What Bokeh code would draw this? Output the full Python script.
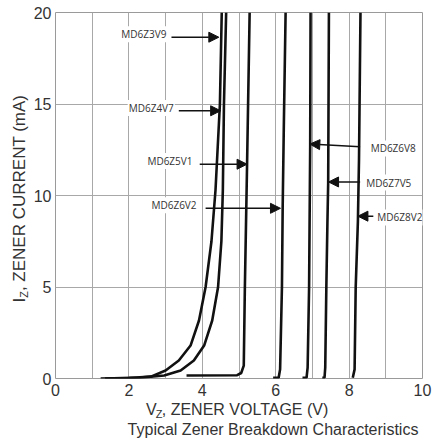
import math
from bokeh.plotting import figure
from bokeh.layouts import row, column
from bokeh.models import Range1d, FixedTicker, Label, Arrow, NormalHead
from bokeh.core.properties import value
from bokeh.embed import file_html
from bokeh.resources import INLINE

# ---- data ----
names = ["MD6Z3V9", "MD6Z4V7", "MD6Z5V1", "MD6Z6V2", "MD6Z6V8", "MD6Z7V5", "MD6Z8V2"]

v_3v9 = [1.23, 2.0, 2.6, 3.0, 3.36, 3.68, 3.91, 4.09, 4.25, 4.36, 4.48, 4.53]
i_3v9 = [0.0, 0.03, 0.1, 0.44, 0.98, 1.8, 3.17, 5.0, 7.5, 10.3, 15.0, 20.0]

v_4v7 = [1.35, 2.3, 2.96, 3.41, 3.77, 4.05, 4.27, 4.43, 4.52, 4.56, 4.59, 4.65]
i_4v7 = [0.0, 0.05, 0.16, 0.44, 0.98, 1.8, 3.17, 5.0, 7.5, 10.3, 15.0, 20.0]

v_5v1 = [3.57, 4.95, 5.06, 5.13, 5.16, 5.22, 5.29]
i_5v1 = [0.16, 0.18, 0.3, 0.7, 5.0, 11.7, 20.0]

v_6v2 = [5.93, 6.08, 6.12, 6.17, 6.19, 6.22, 6.27]
i_6v2 = [0.04, 0.04, 0.5, 5.0, 9.3, 13.6, 20.0]

v_6v8 = [6.73, 6.84, 6.87, 6.91, 6.94, 6.95]
i_6v8 = [0.04, 0.04, 0.6, 5.0, 12.8, 20.0]

v_7v5 = [7.27, 7.33, 7.35, 7.38, 7.41, 7.43, 7.45]
i_7v5 = [0.04, 0.04, 0.6, 5.0, 8.6, 10.7, 20.0]

v_8v2 = [8.10, 8.15, 8.18, 8.24, 8.27, 8.31]
i_8v2 = [0.04, 0.5, 5.0, 8.6, 12.0, 20.0]

curves_v = [v_3v9, v_4v7, v_5v1, v_6v2, v_6v8, v_7v5, v_8v2]
curves_i = [i_3v9, i_4v7, i_5v1, i_6v2, i_6v8, i_7v5, i_8v2]

x_ticks = [0, 2, 4, 6, 8, 10]
x_grid = [0, 1, 2, 3, 4, 5, 6, 7, 8, 9, 10]
y_ticks = [0, 5, 10, 15, 20]
y_grid = [5, 10, 15]

# callout anchors (label position, arrow start, arrow tip), in data units
label_x = [3.05, 3.25, 3.76, 3.87, 8.56, 8.44, 8.74]
label_y = [18.81, 14.78, 11.88, 9.47, 12.57, 10.71, 8.80]
label_side = ["right", "right", "right", "right", "left", "left", "left"]
arrow_x0 = [3.16, 3.36, 3.93, 4.09, 8.30, 8.30, 8.66]
arrow_y0 = [18.65, 14.63, 11.71, 9.30, 12.66, 10.74, 8.87]
arrow_x1 = [4.45, 4.50, 5.22, 6.13, 6.93, 7.44, 8.24]
arrow_y1 = [18.65, 14.63, 11.71, 9.30, 12.81, 10.74, 8.87]

x_title = ["V", "Z", ", ZENER VOLTAGE (V)"]
y_title = ["I", "Z", ", ZENER CURRENT (mA)"]
caption = "Typical Zener Breakdown Characteristics"

FONT = "Liberation Sans"
TXT = "#333333"

# ---- main chart ----
p = figure(width=402, height=401, output_backend="svg", toolbar_location=None,
           x_range=Range1d(0, 10), y_range=Range1d(0, 20),
           min_border_left=25, min_border_right=10, min_border_top=12, min_border_bottom=23)
p.background_fill_color = "white"
p.border_fill_color = "white"
p.outline_line_color = "#9a9a9a"
p.outline_line_width = 1

p.xaxis.ticker = FixedTicker(ticks=x_ticks)
p.yaxis.ticker = FixedTicker(ticks=y_ticks)
p.xgrid.ticker = FixedTicker(ticks=x_grid)
p.ygrid.ticker = FixedTicker(ticks=y_grid)
for g in (p.xgrid, p.ygrid):
    g.grid_line_color = "#a8a8a8"
    g.grid_line_width = 1

for ax in (p.xaxis, p.yaxis):
    ax.axis_line_color = None
    ax.major_tick_line_color = None
    ax.minor_tick_line_color = None
    ax.major_tick_out = 0
    ax.major_tick_in = 0
    ax.minor_tick_out = 0
    ax.major_label_text_font = FONT
    ax.major_label_text_font_size = "16px"
    ax.major_label_text_color = TXT
p.xaxis.major_label_standoff = 5
p.yaxis.major_label_standoff = 4

for vv, ii in zip(curves_v, curves_i):
    p.line(vv, ii, line_color="#111111", line_width=2.6)

for k, name in enumerate(names):
    p.add_layout(Arrow(end=NormalHead(size=10, fill_color="#111111", line_color="#111111"),
                       x_start=arrow_x0[k], y_start=arrow_y0[k],
                       x_end=arrow_x1[k], y_end=arrow_y1[k],
                       line_color="#111111", line_width=1.5))
    p.add_layout(Label(x=label_x[k], y=label_y[k], text=name, text_align=label_side[k],
                       text_baseline="middle", text_font="Open Sans", text_font_size="10px",
                       text_color="#333333", background_fill_color="white", padding=1))


def text_panel(w, h, x0, y0):
    f = figure(width=w, height=h, output_backend="svg", toolbar_location=None,
               x_range=Range1d(x0, x0 + w), y_range=Range1d(y0 + h, y0),
               x_axis_location=None, y_axis_location=None,
               min_border_left=0, min_border_right=0, min_border_top=0, min_border_bottom=0)
    f.grid.visible = False
    f.outline_line_color = None
    f.background_fill_color = "white"
    f.border_fill_color = "white"
    return f


# ---- left strip: rotated y title (coordinates ~ page pixels) ----
yfig = text_panel(30, 441, 0, 0)
ang = math.pi / 2
yfig.text(x=[19], y=[302], text=[y_title[0]], angle=ang, text_font=value(FONT),
          text_font_size="17px", text_color=TXT, text_baseline="alphabetic", text_align="left")
yfig.text(x=[23], y=[297.3], text=[y_title[1]], angle=ang, text_font=value(FONT),
          text_font_size="11px", text_color=TXT, text_baseline="alphabetic", text_align="left")
yfig.text(x=[19], y=[290.6], text=[y_title[2]], angle=ang, text_font=value(FONT),
          text_font_size="17px", text_color=TXT, text_baseline="alphabetic", text_align="left")

# ---- bottom strip: x title and caption ----
bfig = text_panel(402, 40, 30, 401)
bfig.text(x=[129], y=[409], text=[x_title[0]], text_font=value(FONT), text_font_size="16px",
          text_color=TXT, text_baseline="alphabetic", text_align="left")
bfig.text(x=[139.7], y=[413], text=[x_title[1]], text_font=value(FONT), text_font_size="11px",
          text_color=TXT, text_baseline="alphabetic", text_align="left")
bfig.text(x=[146.4], y=[409], text=[x_title[2]], text_font=value(FONT), text_font_size="16px",
          text_color=TXT, text_baseline="alphabetic", text_align="left")
bfig.text(x=[109], y=[429], text=[caption], text_font=value(FONT), text_font_size="16px",
          text_color=TXT, text_baseline="alphabetic", text_align="left")

layout = row(yfig, column(p, bfig, spacing=0), spacing=0)
open("out.html", "w").write(file_html(layout, INLINE))
